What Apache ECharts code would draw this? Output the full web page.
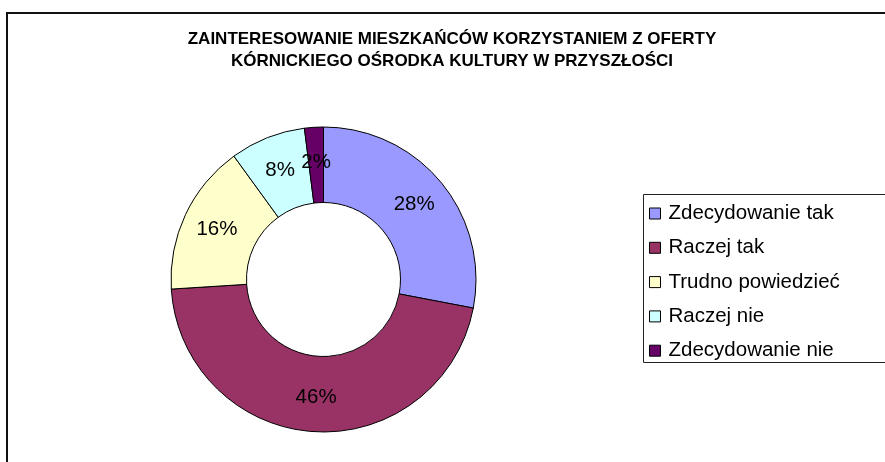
<!DOCTYPE html>
<html>
<head>
<meta charset="utf-8">
<script src="https://cdn.jsdelivr.net/npm/echarts@6/dist/echarts.min.js"></script>
<style>
  html, body { margin: 0; padding: 0; background: #fff; }
  #chart { width: 885px; height: 462px; }
</style>
</head>
<body>
<div id="chart"></div>
<script>
var categories = ["Zdecydowanie tak", "Raczej tak", "Trudno powiedzieć", "Raczej nie", "Zdecydowanie nie"];
var shares = [28, 46, 16, 8, 2];
var sliceColors = ["#9999FF", "#993366", "#FFFFCC", "#CCFFFF", "#660066"];
var titleLines = [
	"ZAINTERESOWANIE MIESZKAŃCÓW KORZYSTANIEM Z OFERTY",
	"KÓRNICKIEGO OŚRODKA KULTURY W PRZYSZŁOŚCI"
];

var font = "'Liberation Sans', Arial, sans-serif";

var pieData = [];
for (var i = 0; i < categories.length; i++) {
	pieData.push({ name: categories[i], value: shares[i] });
}

var chart = echarts.init(document.getElementById("chart"));
chart.setOption({
	animation: false,
	color: sliceColors,
	title: {
		text: titleLines.join("\n"),
		left: 452,
		top: 28,
		padding: 0,
		textAlign: "center",
		textStyle: {
			fontFamily: font,
			fontSize: 17,
			fontWeight: "bold",
			color: "#000",
			lineHeight: 22.5
		}
	},
	// outer frame and legend box (both run off the right/bottom edge)
	graphic: [
		{
			type: "rect",
			shape: { x: 7, y: 13, width: 1000, height: 1000 },
			style: { fill: null, stroke: "#111", lineWidth: 2 },
			silent: true
		},
		{
			type: "rect",
			shape: { x: 643.5, y: 194.5, width: 400, height: 168 },
			style: { fill: null, stroke: "#222", lineWidth: 1 },
			silent: true
		}
	],
	legend: {
		orient: "vertical",
		left: 649,
		top: 203,
		padding: 0,
		itemGap: 13.3,
		itemWidth: 11,
		itemHeight: 11,
		icon: "rect",
		itemStyle: { borderColor: "#000", borderWidth: 1 },
		textStyle: {
			fontFamily: font,
			fontSize: 20.5,
			color: "#000",
			lineHeight: 21,
			padding: [0, 0, 0, 3]
		},
		data: categories
	},
	series: [{
		type: "pie",
		center: [323.5, 279.5],
		radius: [77, 152.5],
		startAngle: 90,
		clockwise: true,
		avoidLabelOverlap: false,
		emphasis: { disabled: true },
		itemStyle: { borderColor: "#000", borderWidth: 1 },
		label: {
			show: true,
			position: "inside",
			formatter: "{c}%",
			fontFamily: font,
			fontSize: 20.5,
			color: "#000",
			textBorderWidth: 0
		},
		labelLine: { show: false },
		data: pieData
	}]
});
</script>
</body>
</html>
